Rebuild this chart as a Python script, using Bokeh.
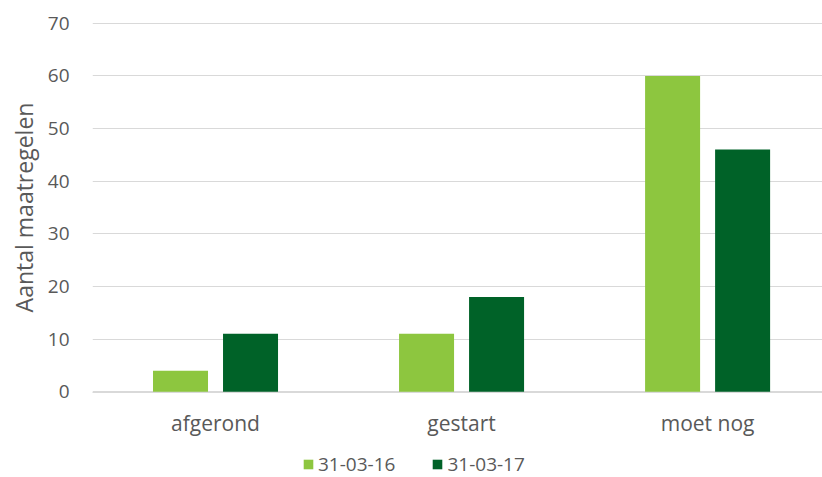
from bokeh.plotting import figure
from bokeh.layouts import column
from bokeh.models import (Range1d, FixedTicker, Legend, LegendItem, ColumnDataSource)
from bokeh.transform import dodge
from bokeh.embed import file_html
from bokeh.resources import INLINE

categories = ["afgerond", "gestart", "moet nog"]
series_2016 = [4, 11, 60]
series_2017 = [11, 18, 46]
series_names = ["31-03-16", "31-03-17"]
y_ticks = [0, 10, 20, 30, 40, 50, 60, 70]

FONT = "Open Sans"
TXT = "#595959"
GRID = "#D9D9D9"
LIGHT = "#8DC63F"
DARK = "#006228"

xpos = [i + 0.5 for i in range(len(categories))]
src = ColumnDataSource(dict(x=xpos, a=series_2016, b=series_2017))

p = figure(width=822, height=440, output_backend="svg", toolbar_location=None,
           x_range=Range1d(0, 2.967), y_range=Range1d(-0.15, 70.15),
           min_border_left=92, min_border_top=22, min_border_right=0,
           min_border_bottom=48)
p.outline_line_color = None
p.background_fill_color = "white"
p.border_fill_color = "white"

bw = 55 / 246
off = 35 / 246
r1 = p.vbar(x=dodge("x", -off, range=p.x_range), top="a", width=bw, source=src,
            fill_color=LIGHT, line_color=None)
r2 = p.vbar(x=dodge("x", off, range=p.x_range), top="b", width=bw, source=src,
            fill_color=DARK, line_color=None)

# axes
p.xaxis.ticker = FixedTicker(ticks=xpos)
p.xaxis.major_label_overrides = {x: c for x, c in zip(xpos, categories)}
p.xaxis.axis_line_color = GRID
p.xaxis.axis_line_width = 1
p.xaxis.major_tick_line_color = None
p.xaxis.minor_tick_line_color = None
p.xaxis.major_label_text_font = FONT
p.xaxis.major_label_text_font_size = "21px"
p.xaxis.major_label_text_color = TXT
p.xaxis.major_label_standoff = 10

p.yaxis.ticker = FixedTicker(ticks=y_ticks)
p.yaxis.axis_line_color = None
p.yaxis.major_tick_line_color = None
p.yaxis.minor_tick_line_color = None
p.yaxis.major_label_text_font = FONT
p.yaxis.major_label_text_font_size = "19px"
p.yaxis.major_label_text_color = TXT
p.yaxis.major_label_standoff = 17
p.yaxis.axis_label = "Aantal maatregelen"
p.yaxis.axis_label_text_font = FONT
p.yaxis.axis_label_text_font_size = "23px"
p.yaxis.axis_label_text_font_style = "normal"
p.yaxis.axis_label_text_color = TXT
p.yaxis.axis_label_standoff = 5

p.xgrid.grid_line_color = None
p.ygrid.grid_line_color = GRID
p.ygrid.grid_line_width = 1

# legend strip (separate figure below the chart; its renderers are hidden)
lg = figure(width=822, height=37, output_backend="svg", toolbar_location=None,
            x_axis_type=None, y_axis_type=None,
            x_range=Range1d(0, 1), y_range=Range1d(0, 1),
            min_border_left=0, min_border_right=0, min_border_top=0,
            min_border_bottom=0)
lg.outline_line_color = None
lg.grid.visible = False
l1 = lg.vbar(x="x", top="a", width=0.1, source=src, fill_color=LIGHT, line_color=None)
l2 = lg.vbar(x="x", top="b", width=0.1, source=src, fill_color=DARK, line_color=None)
l1.visible = False
l2.visible = False

legend = Legend(items=[LegendItem(label=series_names[0], renderers=[l1]),
                       LegendItem(label=series_names[1], renderers=[l2])],
                orientation="horizontal", location=(210, 0),
                label_text_font=FONT, label_text_font_size="19px",
                label_text_color=TXT, glyph_width=12, glyph_height=12,
                label_height=18, label_standoff=4, spacing=36, margin=0, padding=0,
                border_line_color=None, background_fill_alpha=0,
                inactive_fill_alpha=0)
lg.add_layout(legend)

layout = column(p, lg, spacing=0)
open("out.html", "w").write(file_html(layout, INLINE))
